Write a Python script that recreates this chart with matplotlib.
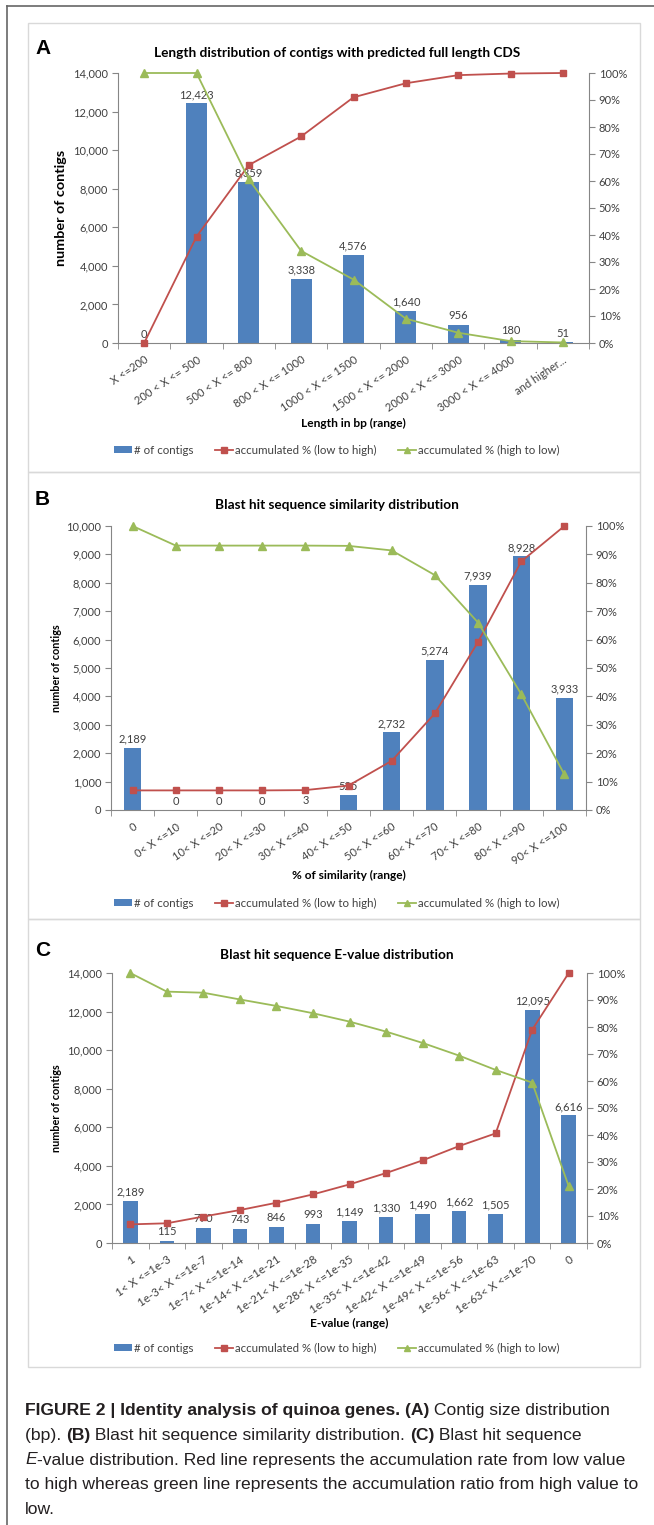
import numpy as np
import matplotlib
matplotlib.use('Agg')
import matplotlib.pyplot as plt
from matplotlib.patches import Rectangle, Patch
from matplotlib.lines import Line2D
from matplotlib.ticker import MultipleLocator, FuncFormatter

# panel A - length distribution
a_labels = ['X <=200', '200 < X <= 500', '500 < X <= 800', '800 < X <= 1000',
            '1000 < X <= 1500', '1500 < X <= 2000', '2000 < X <= 3000',
            '3000 < X <= 4000', 'and higher...']
a_counts = [0, 12423, 8359, 3338, 4576, 1640, 956, 180, 51]
a_low = [0, 39.4, 65.9, 76.5, 91.0, 96.2, 99.2, 99.8, 100]
a_high = [100, 100, 60.6, 34.1, 23.5, 9.0, 3.8, 0.7, 0.2]

# panel B - similarity distribution
b_labels = ['0', '0< X <=10', '10< X <=20', '20< X <=30', '30< X <=40',
            '40< X <=50', '50< X <=60', '60< X <=70', '70< X <=80',
            '80< X <=90', '90< X <=100']
b_counts = [2189, 0, 0, 0, 3, 525, 2732, 5274, 7939, 8928, 3933]
b_low = [6.9, 6.9, 6.9, 6.9, 7.0, 8.6, 17.3, 34.0, 59.2, 87.5, 100]
b_high = [100, 93.1, 93.1, 93.1, 93.1, 93.0, 91.4, 82.7, 66.0, 40.8, 12.5]

# panel C - E-value distribution
c_labels = ['1', '1< X <=1e-3', '1e-3< X <=1e-7', '1e-7< X <=1e-14',
            '1e-14< X <=1e-21', '1e-21< X <=1e-28', '1e-28< X <=1e-35',
            '1e-35< X <=1e-42', '1e-42< X <=1e-49', '1e-49< X <=1e-56',
            '1e-56< X <=1e-63', '1e-63< X <=1e-70', '0']
c_counts = [2189, 115, 790, 743, 846, 993, 1149, 1330, 1490, 1662, 1505, 12095, 6616]
c_low = [6.9, 7.3, 9.8, 12.2, 14.9, 18.0, 21.7, 25.9, 30.6, 35.9, 40.6, 79.0, 100]
c_high = [100, 93.1, 92.7, 90.2, 87.8, 85.1, 82.0, 78.3, 74.1, 69.4, 64.1, 59.4, 21.0]

legend_names = ['# of contigs', 'accumulated % (low to high)', 'accumulated % (high to low)']

BLUE = '#4F81BD'
RED = '#C0504D'
GREEN = '#9BBB59'
AXC = '#868686'
TXT = '#404040'
FONT = ['Lato', 'DejaVu Sans']

W, H = 654, 1525
plt.rcParams['font.family'] = FONT
fig = plt.figure(figsize=(W / 100, H / 100), dpi=100)


def fx(x):
    return x / W


def fy(y):
    return 1 - y / H


def panel(letter, title, labels, counts, low, high, box, axpx, ymax, ystep,
          xlabel, ylab_x, ylab_fs, top_y, xlab_y, leg_y, tick_fs=8.0, xt_fs=8.0):
    # light box around the panel
    bx0, by0, bx1, by1 = box
    fig.add_artist(Rectangle((fx(bx0), fy(by1)), (bx1 - bx0) / W, (by1 - by0) / H,
                             transform=fig.transFigure, fill=False,
                             edgecolor='#D9D9D9', lw=1))
    fig.text(fx(35), fy(top_y), letter, fontsize=15, fontweight='bold',
             family='Liberation Sans', va='center', ha='left', color='black')
    fig.text(fx(337), fy(top_y + 5), title, fontsize=9.8, fontweight='bold',
             va='center', ha='center', color='black')

    l, r, t, b = axpx
    ax = fig.add_axes([fx(l), fy(b), (r - l) / W, (b - t) / H])
    n = len(counts)
    x = np.arange(n)
    ax.bar(x, counts, width=0.4, color=BLUE, zorder=2)
    for i, v in enumerate(counts):
        ax.annotate(f'{v:,}', (i, v), xytext=(0, 2.5), textcoords='offset points',
                    ha='center', va='bottom', fontsize=tick_fs, color=TXT)
    ax.set_xlim(-0.5, n - 0.5)
    ax.set_ylim(0, ymax)
    ax.yaxis.set_major_locator(MultipleLocator(ystep))
    ax.yaxis.set_major_formatter(FuncFormatter(lambda v, p: f'{v:,.0f}'))
    ax.set_xticks(x)
    ax.set_xticklabels(labels, rotation=34, ha='right', va='top',
                       rotation_mode='anchor', fontsize=xt_fs, color=TXT)
    ax.set_xticks(np.arange(-0.5, n), minor=True)
    ax.tick_params(axis='x', which='major', length=0, pad=8)
    ax.tick_params(axis='x', which='minor', length=4, color=AXC, direction='out')
    ax.tick_params(axis='y', length=4, color=AXC, labelsize=tick_fs,
                   labelcolor=TXT, pad=3)
    for s in ['top', 'right']:
        ax.spines[s].set_visible(False)
    for s in ['left', 'bottom']:
        ax.spines[s].set_color(AXC)
        ax.spines[s].set_linewidth(0.8)

    ax2 = ax.twinx()
    ax2.plot(x, low, color=RED, marker='s', ms=5, lw=1.3, clip_on=False, zorder=3)
    ax2.plot(x, high, color=GREEN, marker='^', ms=5.5, lw=1.3, clip_on=False, zorder=3)
    ax2.set_ylim(0, 100)
    ax2.yaxis.set_major_locator(MultipleLocator(10))
    ax2.yaxis.set_major_formatter(FuncFormatter(lambda v, p: f'{v:.0f}%'))
    ax2.tick_params(axis='y', length=4, color=AXC, labelsize=tick_fs,
                    labelcolor=TXT, pad=3)
    for s in ['top', 'left', 'bottom']:
        ax2.spines[s].set_visible(False)
    ax2.spines['right'].set_color(AXC)
    ax2.spines['right'].set_linewidth(0.8)

    fig.text(fx(ylab_x), fy((t + b) / 2), 'number of contigs', rotation=90,
             fontsize=ylab_fs, fontweight='bold', ha='center', va='center',
             color='black')
    fig.text(fx((l + r) / 2), fy(xlab_y), xlabel, fontsize=8.6,
             fontweight='bold', ha='center', va='center', color='black')

    handles = [Patch(facecolor=BLUE, edgecolor='none'),
               Line2D([], [], color=RED, marker='s', ms=4.5, lw=1.3),
               Line2D([], [], color=GREEN, marker='^', ms=5, lw=1.3)]
    fig.legend(handles, legend_names, loc='center', ncol=3,
               bbox_to_anchor=(fx(337), fy(leg_y)), bbox_transform=fig.transFigure,
               frameon=False, fontsize=8.3, handlelength=1.5, handleheight=0.6,
               handletextpad=0.2, columnspacing=1.9, labelcolor=TXT)
    return ax


panel('A', 'Length distribution of contigs with predicted full length CDS',
      a_labels, a_counts, a_low, a_high, (28, 23, 640, 472), (118, 589, 73, 343),
      14000, 2000, 'Length in bp (range)', 61, 10.4, 48, 423, 450)
panel('B', 'Blast hit sequence similarity distribution',
      b_labels, b_counts, b_low, b_high, (28, 472, 640, 919), (111, 586, 526, 810),
      10000, 1000, '% of similarity (range)', 57, 7.8, 500, 875, 903)
panel('C', 'Blast hit sequence E-value distribution',
      c_labels, c_counts, c_low, c_high, (28, 919, 640, 1367), (112, 587, 973, 1243),
      14000, 2000, 'E-value (range)', 57, 7.8, 950, 1323, 1348, xt_fs=8.3)

# outer frame (top and left only)
fig.add_artist(Line2D([fx(7), 1], [fy(6), fy(6)], transform=fig.transFigure,
                      color='#666666', lw=1.2))
fig.add_artist(Line2D([fx(7), fx(7)], [fy(6), 0], transform=fig.transFigure,
                      color='#666666', lw=1.2))

# caption with mixed styles
caption = [
    [('FIGURE 2 | Identity analysis of quinoa genes. (A)', 'bold', 'normal'),
     (' Contig size distribution', 'normal', 'normal')],
    [('(bp). ', 'normal', 'normal'), ('(B)', 'bold', 'normal'),
     (' Blast hit sequence similarity distribution. ', 'normal', 'normal'),
     ('(C)', 'bold', 'normal'), (' Blast hit sequence', 'normal', 'normal')],
    [('E', 'normal', 'italic'),
     ('-value distribution. Red line represents the accumulation rate from low value',
      'normal', 'normal')],
    [('to high whereas green line represents the accumulation ratio from high value to',
      'normal', 'normal')],
    [('low.', 'normal', 'normal')],
]
cap_fs = 12.6
renderer = fig.canvas.get_renderer()


def text_width(s, weight, style):
    t1 = fig.text(0, 0, '|' + s + '|', fontsize=cap_fs, fontweight=weight,
                  fontstyle=style, family='Liberation Sans')
    t2 = fig.text(0, 0, '||', fontsize=cap_fs, fontweight=weight,
                  fontstyle=style, family='Liberation Sans')
    w = t1.get_window_extent(renderer).width - t2.get_window_extent(renderer).width
    t1.remove()
    t2.remove()
    return w


for li, line in enumerate(caption):
    xpos = 25
    ypos = 1411 + li * 24.5
    for s, weight, style in line:
        fig.text(fx(xpos), fy(ypos), s, fontsize=cap_fs, fontweight=weight,
                 fontstyle=style, family='Liberation Sans', color='#231F20',
                 ha='left', va='center')
        xpos += text_width(s, weight, style)

fig.savefig('out.png', dpi=100)
